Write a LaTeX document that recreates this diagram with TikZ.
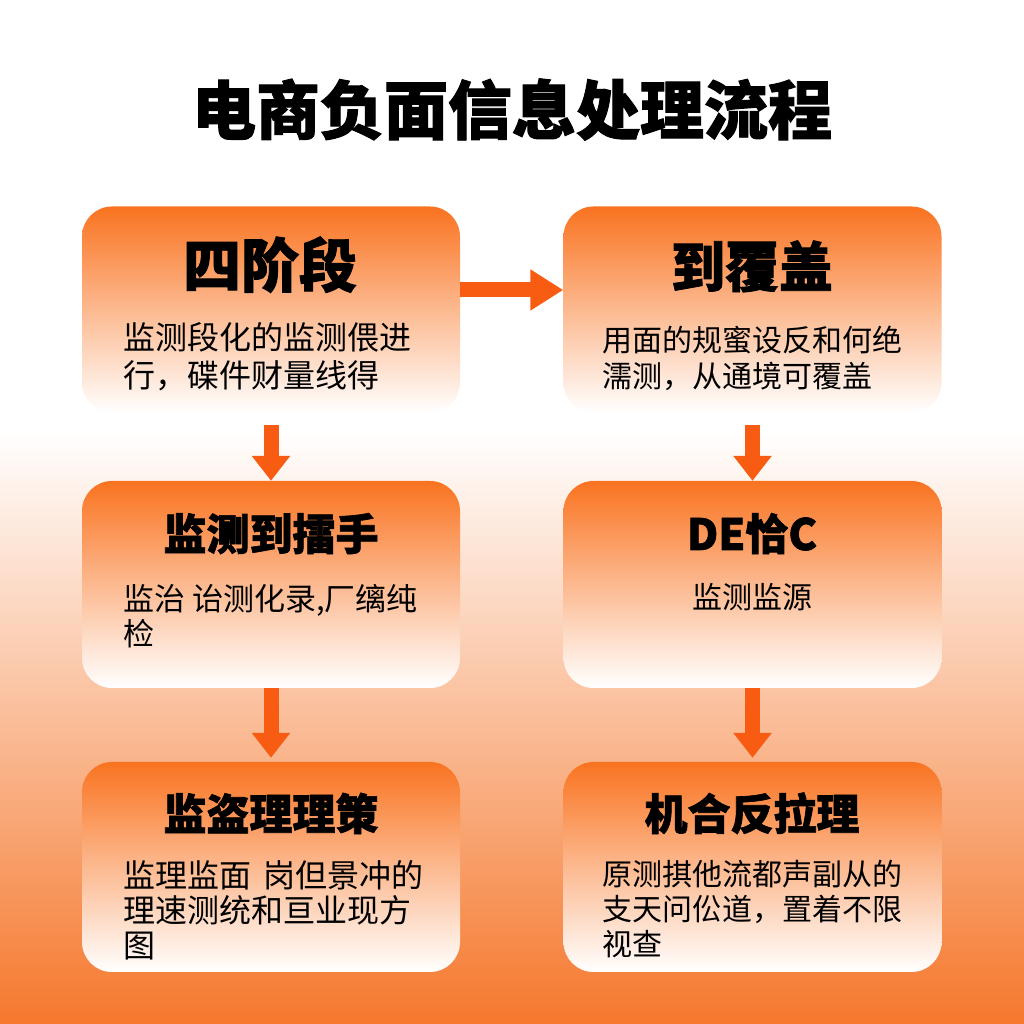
\documentclass[tikz,border=0pt]{standalone}
\usepackage{fontspec}
\setmainfont{Noto Sans CJK SC}
\newfontfamily\heavyfont[BoldFeatures={FakeBold=1.5}]{Noto Sans CJK SC}
\usetikzlibrary{arrows.meta}
\definecolor{bgorange}{RGB}{245,120,45}
\definecolor{bgpeach}{RGB}{252,212,186}
\definecolor{boxtop}{RGB}{249,115,32}
\definecolor{boxmid}{RGB}{252,206,176}
\definecolor{arroworange}{RGB}{248,92,18}
\tikzset{
  stagebox/.style={rectangle, rounded corners=30pt, minimum width=378pt, minimum height=206pt,
    top color=boxtop, middle color=boxmid, bottom color=white, draw=none, inner sep=0pt},
  stagetitle/.style={anchor=base, inner sep=0pt, font=\heavyfont\bfseries\fontsize{43}{43}\selectfont},
  bigtitle/.style={stagetitle, font=\heavyfont\bfseries\fontsize{54}{54}\selectfont},
  stagetext/.style={anchor=base west, inner sep=0pt, align=left, font=\fontsize{30}{35}\selectfont},
  flowarrow/.style={draw=arroworange, line width=15pt, -{Triangle[width=37pt,length=25pt]}}
}
\begin{document}
\begin{tikzpicture}[x=1pt,y=1pt]
  % fondo
  \fill[white] (0,0) rectangle (1024,1024);
  \shade[top color=white, middle color=bgpeach, bottom color=bgorange] (0,0) rectangle (1024,594);
  \useasboundingbox (0,0) rectangle (1024,1024);
  % titulo
  \node[anchor=base, inner sep=0pt, font=\heavyfont\bfseries\fontsize{64}{64}\selectfont] (title) at (512,890) {电商负面信息处理流程};
  % cajas
  \node[stagebox] (s1) at (271,714.5) {};
  \node[stagebox] (s2) at (752.5,714.5) {};
  \node[stagebox, minimum height=207pt] (s3) at (271,439.5) {};
  \node[stagebox, minimum height=207pt] (s4) at (752.5,439.5) {};
  \node[stagebox, minimum height=210pt] (s5) at (271,157) {};
  \node[stagebox, minimum height=210pt] (s6) at (752.5,157) {};
  % titulos de las cajas
  \node[bigtitle, font=\heavyfont\bfseries\fontsize{58}{58}\selectfont] (t1) at (270,737) {四阶段};
  \node[bigtitle] (t2) at (752,737) {到覆盖};
  \node[stagetitle] (t3) at (271,474) {监测到擂手};
  \node[stagetitle] (t4) at (752,474) {DE恰C};
  \node[stagetitle] (t5) at (271,194) {监盗理理策};
  \node[stagetitle] (t6) at (752,194) {机合反拉理};
  % textos (base = ultima linea)
  \node[stagetext, font=\fontsize{32}{38}\selectfont] (d1) at (123,636) {监测段化的监测偎进\\行，碟件财量线得};
  \node[stagetext, font=\fontsize{30}{36}\selectfont] (d2) at (602,636) {用面的规蜜设反和何绝\\濡测，从通境可覆盖};
  \node[stagetext, font=\fontsize{31}{35}\selectfont] (d3) at (123,378) {监治 诒测化录,厂缡纯\\检};
  \node[stagetext, anchor=base] (d4) at (752,415) {监测监源};
  \node[stagetext, font=\fontsize{32}{35}\selectfont] (d5) at (123,66) {监理监面\hspace{0.4em}岗但景冲的\\理速测统和亘业现方\\图};
  \node[stagetext] (d6) at (602,68) {原测掑他流都声副从的\\支天问伀道，置着不限\\视查};
  % flechas
  \draw[flowarrow, -{Triangle[width=39pt,length=33pt]}] ([yshift=19.5pt]s1.east) -- ([yshift=19.5pt]s2.west);
  \draw[flowarrow] ([yshift=-12pt]s1.south) -- (s3.north);
  \draw[flowarrow] ([yshift=-12pt]s2.south) -- (s4.north);
  \draw[flowarrow] (s3.south) -- ([yshift=4pt]s5.north);
  \draw[flowarrow] (s4.south) -- ([yshift=4pt]s6.north);
\end{tikzpicture}
\end{document}
